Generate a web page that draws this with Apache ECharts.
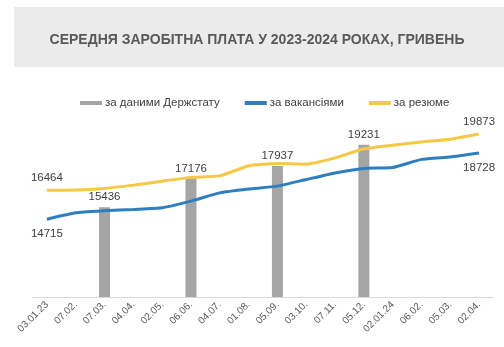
<!DOCTYPE html>
<html><head><meta charset="utf-8">
<script src="https://cdn.jsdelivr.net/npm/echarts@6/dist/echarts.min.js"></script>
<style>html,body{margin:0;padding:0;background:#fff}#c{width:504px;height:347px}</style>
</head><body><div id="c"></div>
<script>
const categories = ['03.01.23','07.02.','07.03.','04.04.','02.05.','06.06.','04.07.','01.08.','05.09.','03.10.','07.11.','05.12.','02.01.24','06.02.','05.03.','02.04.'];
const derzhstat = [null,null,15436,null,null,17176,null,null,17937,null,null,19231,null,null,null,null];
const vacancies = [14715,15100,15220,15310,15410,15810,16310,16540,16720,17120,17520,17790,17850,18340,18490,18728];
const resumes = [16464,16480,16580,16780,17020,17250,17340,17950,18090,18050,18430,18980,19200,19400,19560,19873];
const seriesNames = ['за даними Держстату','за вакансіями','за резюме'];
const titleText = 'СЕРЕДНЯ ЗАРОБІТНА ПЛАТА У 2023-2024 РОКАХ, ГРИВЕНЬ';

const FONT = '"Liberation Sans", Arial, sans-serif';
const chart = echarts.init(document.getElementById('c'), null, {renderer:'canvas'});

function endLabels(arr, pos, dist){
  return arr.map((v,i)=>{
    if(i===0 || i===arr.length-1){
      return {value:v, label:{show:true, position:pos, distance:dist, color:'#404040', fontSize:11.5, fontFamily:FONT, formatter:'{c}'}};
    }
    return v;
  });
}

chart.setOption({
  animation:false,
  textStyle:{fontFamily:FONT},
  graphic:[{type:'rect', left:14, top:7, shape:{width:490, height:60}, style:{fill:'#EBEBEB'}, z:-1}],
  title:{text:titleText, left:252, top:28, textAlign:'center',
    textStyle:{fontSize:14, fontWeight:'bold', color:'#595959', fontFamily:FONT}},
  legend:{left:80, top:97, padding:0, itemWidth:22, itemHeight:4, itemGap:25, icon:'rect',
    textStyle:{fontSize:11.5, color:'#404040', fontFamily:FONT, padding:[0,0,0,-2]},
    data:seriesNames},
  grid:{left:32.5, right:10.5, top:132, bottom:50},
  xAxis:{type:'category', data:categories, boundaryGap:true,
    axisLine:{lineStyle:{color:'#D9D9D9', width:1}}, axisTick:{show:false},
    axisLabel:{rotate:45, fontSize:10, color:'#595959', fontFamily:FONT, interval:0, margin:6}},
  yAxis:{type:'value', min:10000, max:20000, show:false, splitLine:{show:false}},
  series:[
    {name:seriesNames[0], type:'bar', data:derzhstat, barWidth:11, itemStyle:{color:'#A5A5A5'},
      label:{show:true, position:'top', distance:4, color:'#404040', fontSize:11.5, fontFamily:FONT}, z:1},
    {name:seriesNames[1], type:'line', data:endLabels(vacancies,'bottom',9), showSymbol:true, symbol:'circle', symbolSize:0, smooth:0.15,
      lineStyle:{color:'#2E7EC2', width:3}, itemStyle:{color:'#2E7EC2'}, z:3},
    {name:seriesNames[2], type:'line', data:endLabels(resumes,'top',6.5), showSymbol:true, symbol:'circle', symbolSize:0, smooth:0.15,
      lineStyle:{color:'#F6C844', width:3}, itemStyle:{color:'#F6C844'}, z:2}
  ]
});
</script></body></html>
